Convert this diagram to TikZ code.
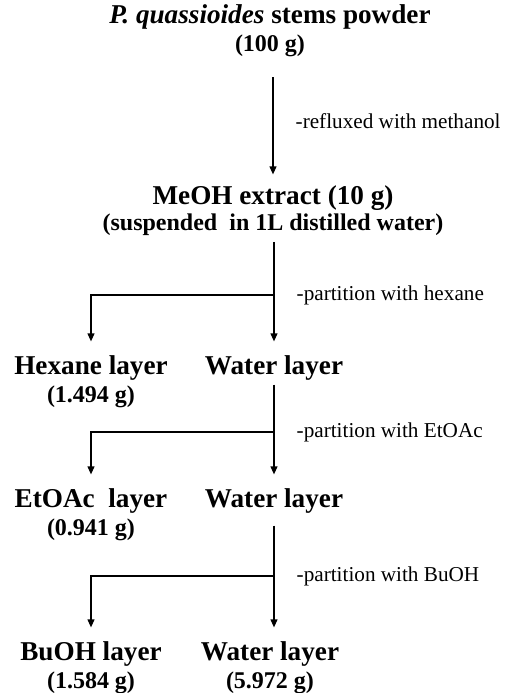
\documentclass[tikz,border=0pt]{standalone}
\usepackage{fontspec}
\setmainfont{Liberation Serif}
\usetikzlibrary{arrows.meta, positioning}
\newcommand{\grams}[1]{{\fontsize{12}{14}\selectfont #1}}

\begin{document}
\begin{tikzpicture}[
        x=0.5pt, y=-0.5pt,
        line width=0.7pt,
        stage/.style={inner sep=0pt, align=center, anchor=base,
                      font=\fontsize{13.6}{14}\selectfont\bfseries},
        note/.style={inner sep=0pt, font=\fontsize{10.6}{12}\selectfont},
        arr/.style={-{Triangle[length=4pt, width=3.4pt]}, shorten >=6.5pt},
      ]
        \useasboundingbox (0,0) rectangle (506,693);
        % multi-line nodes sit on the baseline of their last line
        \node[stage] (powder) at (270,51) {\textit{P. quassioides} stems powder\\\grams{(100 g)}};
        \node[stage] (meoh) at (273,230) {MeOH extract (10 g)\\[-1pt]\grams{(suspended\ \ in 1L distilled water)}};
        \node[stage] (hexane) at (91,402) {Hexane layer\\\grams{(1.494 g)}};
        \node[stage] (water1) at (274,374) {Water layer};
        \node[stage] (etoac) at (91,535) {EtOAc\ \ layer\\\grams{(0.941 g)}};
        \node[stage] (water2) at (274,507) {Water layer};
        \node[stage] (buoh) at (91,688) {BuOH layer\\\grams{(1.584 g)}};
        \node[stage] (water3) at (270,688) {Water layer\\\grams{(5.972 g)}};
        % split points of the partitions
        \coordinate (split1) at (274,295);
        \coordinate (split2) at (274,432);
        \coordinate (split3) at (274,576);
        \draw[arr, shorten <=10pt, shorten >=5pt] (powder.south -| meoh) -- node[note, midway, right=11pt] (reflux) {-refluxed with methanol} (meoh.north);
        \draw[arr, shorten <=3pt] (meoh.south -| water1) -- (water1.north);
        \draw[arr] (split1) -| (hexane.north);
        \node[note, right=11pt of split1] (hexlbl) {-partition with hexane};
        \draw[arr, shorten <=2pt] (water1.south) -- (water2.north);
        \draw[arr] (split2) -| (etoac.north);
        \node[note, right=11pt of split2] (etolbl) {-partition with EtOAc};
        \draw[arr, shorten <=6pt] (water2.south) -- (water2.south |- water3.north);
        \draw[arr] (split3) -| (buoh.north);
        \node[note, right=11pt of split3] (bulbl) {-partition with BuOH};
      \end{tikzpicture}
\end{document}
